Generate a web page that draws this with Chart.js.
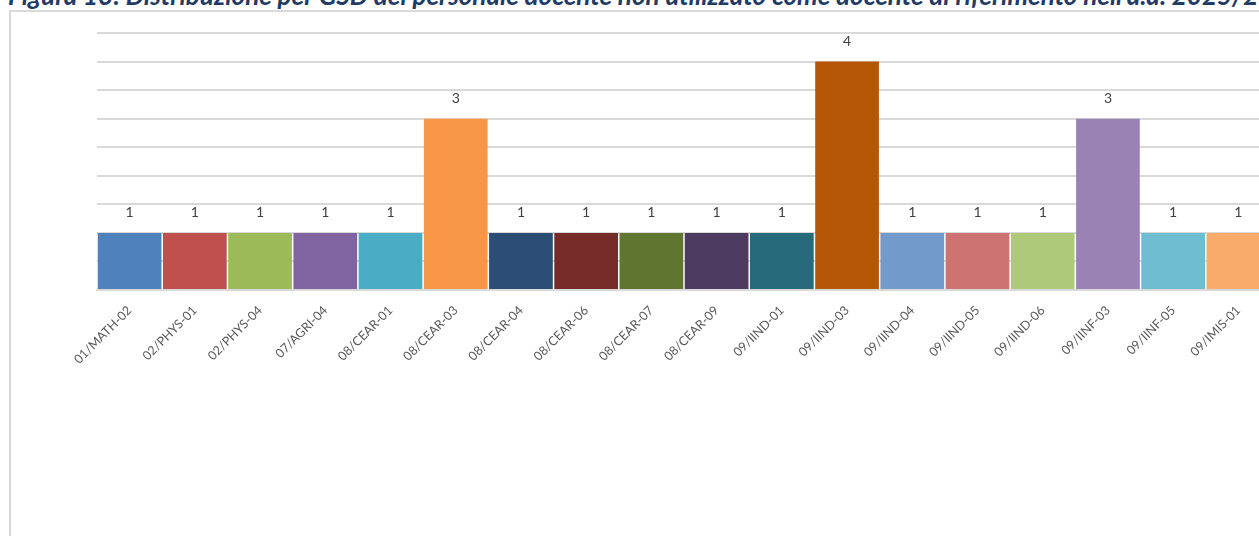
<!DOCTYPE html>
<html>
<head>
<meta charset="utf-8">
<script src="https://cdn.jsdelivr.net/npm/chart.js@4.4.1/dist/chart.umd.min.js"></script>
<style>
  html, body { margin: 0; padding: 0; background: #fff; overflow: hidden; width: 1259px; height: 536px; position: relative; }
  #title { position: absolute; left: 8px; top: -18px; white-space: nowrap; font-family: Lato, "Liberation Sans", sans-serif; font-weight: bold; font-style: italic; font-size: 26px; color: #1F3B66; line-height: 1; }
  #frame { position: absolute; left: 9px; top: 10px; width: 1250px; height: 526px; border-left: 2px solid #d9d9d9; border-top: 2px solid #d9d9d9; box-sizing: border-box; }
  #wrap { position: absolute; left: 0; top: 0; width: 1259px; height: 536px; overflow: hidden; }
  #c { position: absolute; left: 0; top: 0; }
</style>
</head>
<body>
<div id="title">Figura 13: Distribuzione per GSD del personale docente non utilizzato come docente di riferimento nell'a.a. 2025/26</div>
<div id="frame"></div>
<div id="wrap"><canvas id="c" width="1290" height="536"></canvas></div>
<script>
const categories = ["01/MATH-02","02/PHYS-01","02/PHYS-04","07/AGRI-04","08/CEAR-01","08/CEAR-03","08/CEAR-04","08/CEAR-06","08/CEAR-07","08/CEAR-09","09/IIND-01","09/IIND-03","09/IIND-04","09/IIND-05","09/IIND-06","09/IINF-03","09/IINF-05","09/IMIS-01"];
const values = [1,1,1,1,1,3,1,1,1,1,1,4,1,1,1,3,1,1];
const barColors = ["#4F81BD","#C0504D","#9BBB59","#8064A2","#4BACC6","#F79646","#2C4D75","#772C2A","#5F7530","#4D3B62","#276A7C","#B65708","#729ACA","#CD7371","#AFC97A","#9983B5","#6FBDD1","#F9AB6B"];

const valueLabels = {
  id: 'valueLabels',
  afterDatasetsDraw(chart) {
    const ctx = chart.ctx;
    const meta = chart.getDatasetMeta(0);
    ctx.save();
    ctx.font = '14px Lato, "Liberation Sans", sans-serif';
    ctx.fillStyle = '#404040';
    ctx.textAlign = 'center';
    ctx.textBaseline = 'middle';
    meta.data.forEach((bar, i) => {
      ctx.fillText(String(values[i]), bar.x, bar.y - 20);
    });
    ctx.restore();
  }
};

new Chart(document.getElementById('c'), {
  type: 'bar',
  data: {
    labels: categories,
    datasets: [{
      data: values,
      backgroundColor: barColors,
      borderWidth: 0,
      categoryPercentage: 1.0,
      barPercentage: 0.977
    }]
  },
  options: {
    responsive: false,
    animation: false,
    layout: { padding: { left: 97, right: 19, top: 33, bottom: 0 } },
    plugins: { legend: { display: false }, tooltip: { enabled: false } },
    scales: {
      x: {
        grid: { display: false },
        border: { display: true, color: '#d9d9d9', width: 2 },
        ticks: {
          color: '#595959',
          font: { family: 'Lato, "Liberation Sans", sans-serif', size: 12.5 },
          minRotation: 45, maxRotation: 45, autoSkip: false, padding: 5
        },
        afterFit(s) { s.height = 246; }
      },
      y: {
        min: 0, max: 4.5,
        ticks: { display: false, stepSize: 0.5 },
        grid: { color: '#d9d9d9', lineWidth: 2, drawTicks: false },
        border: { display: false },
        afterFit(s) { s.width = 0; }
      }
    }
  },
  plugins: [valueLabels]
});
</script>
</body>
</html>
